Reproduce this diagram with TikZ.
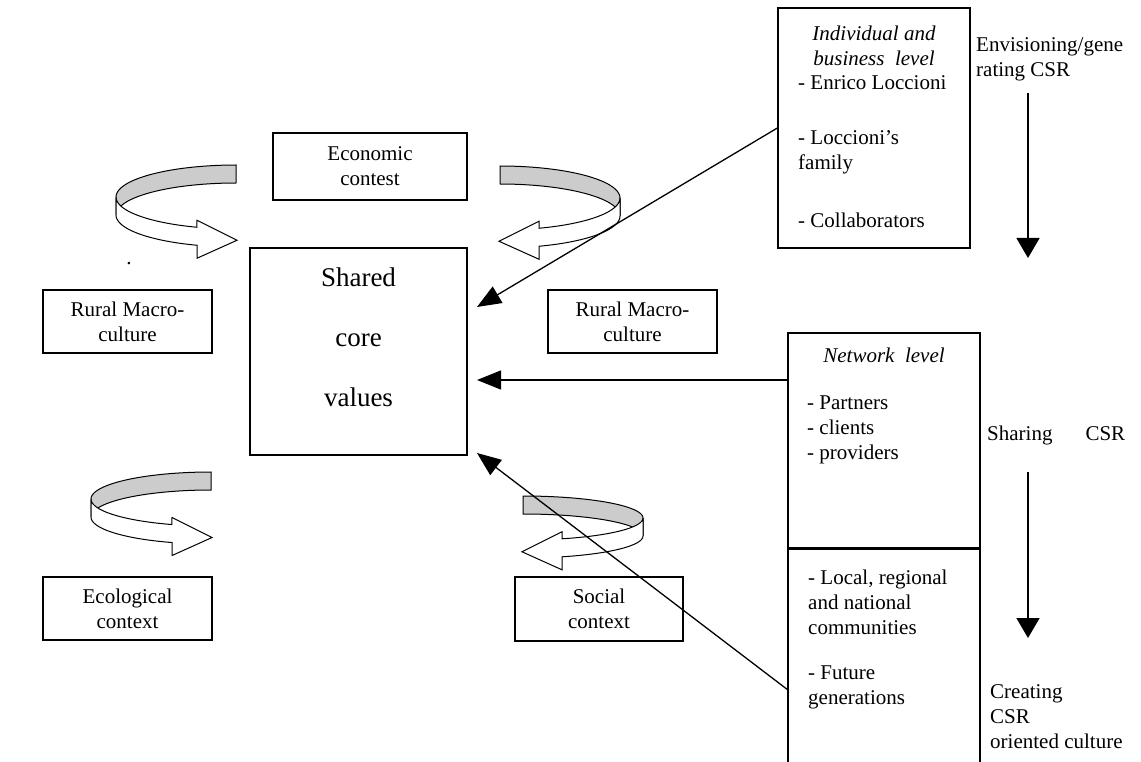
\documentclass[tikz,border=0pt]{standalone}
\usepackage{fontspec}
\setmainfont{Liberation Serif}
\usetikzlibrary{arrows.meta,positioning,calc}
\newcommand{\bodyfont}{\fontsize{21}{25}\selectfont}
\newcommand{\bigfont}{\fontsize{27}{60}\selectfont}
\tikzset{
  box/.style={draw, line width=1.3pt, inner sep=0pt, align=center, font=\bodyfont},
  lbl/.style={inner sep=0pt, align=left, font=\bodyfont},
  lvl/.style={inner sep=0pt, font=\bodyfont\itshape},
  arr/.style={-{Triangle[width=19pt,length=24pt]}, line width=1.3pt},
  flow/.style={-{Triangle[width=23pt,length=20pt]}, line width=1.6pt},
  band/.style={line width=1pt, fill=#1},
}
% U-turn ribbon arrow: centre x, centre y, direction (1 or -1), half height
\newcommand{\uturn}[4]{%
  \begin{scope}[shift={(#1,#2)}, xscale=#3]
    \pgfmathsetmacro{\ys}{0.9455*#4}
    \filldraw[band=gray!40] plot[domain=90:180, samples=40] ({120*cos(\x)},{-#4*sin(\x)})
      -- plot[domain=180:90, samples=40] ({120*cos(\x)},{18-#4*sin(\x)}) -- cycle;
    \filldraw[band=white] plot[domain=180:251, samples=40] ({120*cos(\x)},{-#4*sin(\x)})
      -- (-39,{\ys-7}) -- (1,{\ys+13}) -- (-39,{\ys+31}) -- (-39,{\ys+18})
      -- plot[domain=251:180, samples=40] ({120*cos(\x)},{18-#4*sin(\x)}) -- cycle;
  \end{scope}}

\begin{document}
\begin{tikzpicture}[x=1pt,y=-1pt]
\useasboundingbox (0,0) rectangle (1141,762);
\clip (0,0) rectangle (1141,762);

% contexts round the core
\node[box, minimum width=194pt, minimum height=67pt] (econ) at (370,166.5) {Economic\\contest};
\node[box, minimum width=169pt, minimum height=63pt] (rurall) at (127.5,321.5) {Rural Macro-\\culture};
\node[box, minimum width=169pt, minimum height=63pt] (ruralr) at (632.5,321.5) {Rural Macro-\\culture};
\node[box, minimum width=169pt, minimum height=63pt] (eco) at (127.5,608.5) {Ecological\\context};
\node[box, minimum width=168pt, minimum height=64pt] (soc) at (599,609) {Social\\context};
\node[lbl, anchor=base] (dot) at (129,265) {.};

\node[box, minimum width=217pt, minimum height=207pt] (shared) at (358.5,351.5) {};
\node[inner sep=0pt, align=center, font=\bigfont] (core) at (358.5,337) {Shared\\core\\values};

\uturn{236}{197}{1}{32}
\uturn{500}{198}{-1}{32}
\uturn{211}{499}{1}{27}
\uturn{523}{518}{-1}{22}

% levels
\node[box, minimum width=192pt, minimum height=240pt] (indiv) at (874,128) {};
\node[lvl] (indt) at (874,33) {Individual and};
\node[lvl] (busl) at (874,58) {business\ \ level};
\node[lbl, anchor=west] (enrico) at (798,83) {- Enrico Loccioni};
\node[lbl, anchor=west] (family) at (798,152.5) {- Loccioni’s\\family};
\node[lbl, anchor=west] (collab) at (798,220) {- Collaborators};

\node[box, minimum width=192pt, minimum height=215pt] (netup) at (884,440.5) {};
\node[box, minimum width=192pt, minimum height=230pt, below=0pt of netup] (netlow) {};
\node[lvl] (netl) at (884,355) {Network\ \ level};
\node[lbl, anchor=west] (partn) at (807,430) {- Partners\\- clients\\- providers};
\node[lbl, anchor=west] (local) at (808,602) {- Local, regional\\and national\\communities};
\node[lbl, anchor=west] (future) at (808,687.5) {- Future\\generations};

% phases
\node[lbl, anchor=west] (envis) at (976,59.5) {Envisioning/gene\\rating CSR};
\node[lbl, anchor=west] (share) at (987,435) {Sharing\hspace{33pt}CSR};
\node[lbl, anchor=west] (creat) at (990,717) {Creating\\CSR\\oriented culture};
\coordinate (f1a) at (1028,93);
\coordinate (f1b) at (1028,258);
\coordinate (f2a) at (1028,472);
\coordinate (f2b) at (1028,638);
\draw[flow] (f1a) -- (f1b);
\draw[flow] (f2a) -- (f2b);

% into the core
\coordinate (t1) at (477,307);
\coordinate (t2) at (477,380);
\coordinate (t3) at (477,453);
\coordinate (s3) at (788,690);
\draw[arr] (indiv.west) -- (t1);
\draw[arr] (netup.west |- t2) -- (t2);
\draw[arr] (s3) -- (t3);
\end{tikzpicture}
\end{document}
